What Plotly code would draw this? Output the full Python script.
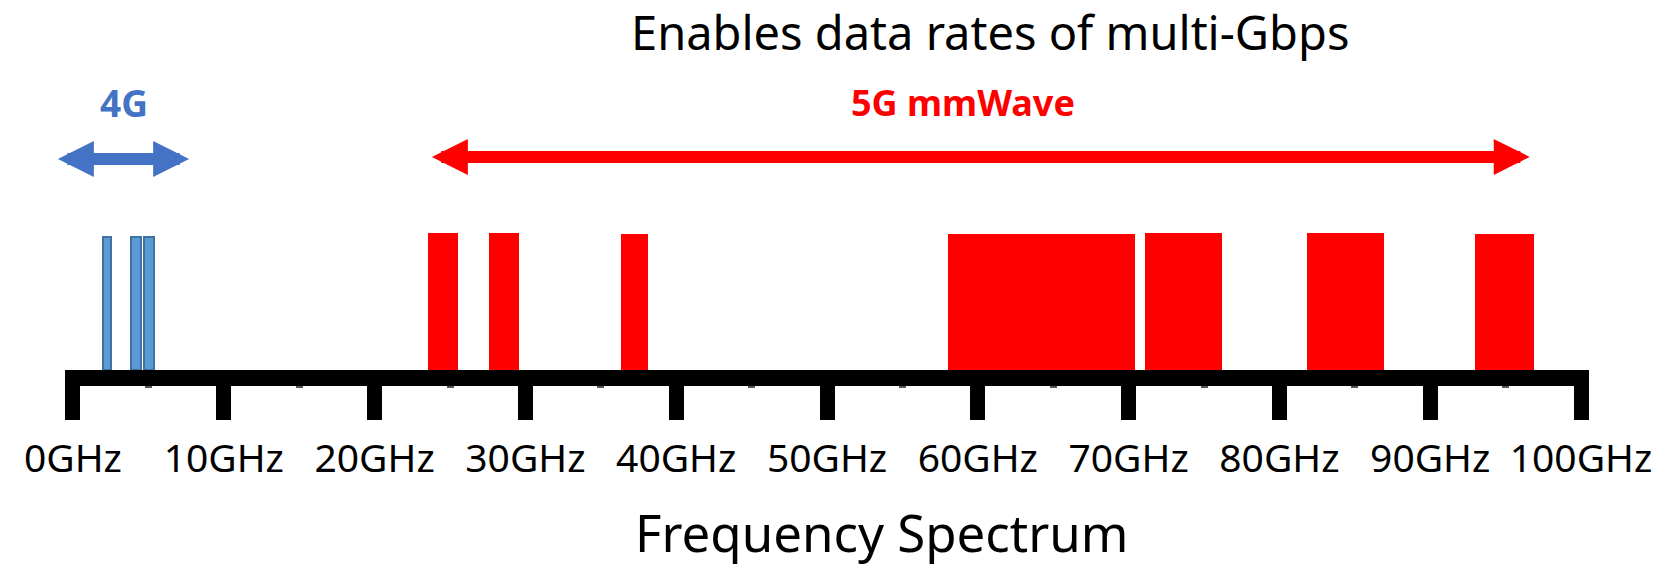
import plotly.graph_objects as go

# ---------------- data (GHz) ----------------
band4g_start = [2.01, 3.87, 4.70]
band4g_end = [2.52, 4.50, 5.34]
band4g_height = [0.97, 0.97, 0.97]
band5g_start = [23.55, 27.59, 36.33, 58.05, 71.09, 81.82, 92.96]
band5g_end = [25.51, 29.55, 38.16, 70.41, 76.22, 86.92, 96.87]
band5g_height = [1.0, 1.0, 0.99, 0.99, 1.0, 1.0, 0.99]
tick_vals = [0, 10, 20, 30, 40, 50, 60, 70, 80, 90, 100]
tick_text = ["0GHz", "10GHz", "20GHz", "30GHz", "40GHz", "50GHz",
             "60GHz", "70GHz", "80GHz", "90GHz", "100GHz"]
minor_vals = [5, 15, 25, 35, 45, 55, 65, 75, 85, 95]
arrow_4g = [-1.1, 7.7]
arrow_5g = [23.7, 96.6]

FONT = "Noto Sans"
BLUE_TXT = "#4472C4"
RED = "#FF0000"

W, H = 1678, 569
L, R, T, B = 65, 89, 0, 199
px_per_unit = 137.0
ymax = (H - T - B) / px_per_unit

fig = go.Figure()

fig.add_trace(go.Bar(
    x=[(s + e) / 2 for s, e in zip(band4g_start, band4g_end)],
    y=band4g_height,
    width=[e - s for s, e in zip(band4g_start, band4g_end)],
    marker=dict(color="#5B9BD5", line=dict(color="#41719C", width=2)),
    hoverinfo="skip",
))
fig.add_trace(go.Bar(
    x=[(s + e) / 2 for s, e in zip(band5g_start, band5g_end)],
    y=band5g_height,
    width=[e - s for s, e in zip(band5g_start, band5g_end)],
    marker=dict(color=RED, line=dict(width=0)),
    hoverinfo="skip",
))

annotations = [
    dict(text="Enables data rates of multi-Gbps", x=60.8, y=1.0, xref="x", yref="paper",
         showarrow=False, font=dict(family=FONT, size=47, color="black"),
         xanchor="center", yanchor="top", yshift=2),
    dict(text="<b>4G</b>", x=3.4, y=1.95, xref="x", yref="y", showarrow=False,
         font=dict(family=FONT, size=37, color=BLUE_TXT), xanchor="center", yanchor="middle"),
    dict(text="<b>5G mmWave</b>", x=59.0, y=1.95, xref="x", yref="y", showarrow=False,
         font=dict(family=FONT, size=36, color=RED), xanchor="center", yanchor="middle"),
    dict(text="Frequency Spectrum", x=53.6, y=-(B / (H - T - B)), xref="x", yref="paper",
         showarrow=False, font=dict(family=FONT, size=51, color="black"),
         xanchor="center", yanchor="bottom"),
]
for (a0, a1), col, yv, w in [(arrow_4g, "#4472C4", 1.54, 12), (arrow_5g, RED, 1.555, 12)]:
    annotations.append(dict(
        x=a1, y=yv, ax=a0, ay=yv, xref="x", yref="y", axref="x", ayref="y",
        text="", showarrow=True, arrowside="end+start", arrowhead=2, startarrowhead=2,
        arrowsize=0.6, startarrowsize=0.6, arrowwidth=w, arrowcolor=col,
        standoff=0, startstandoff=0,
    ))

fig.update_layout(
    width=W, height=H,
    margin=dict(l=L, r=R, t=T, b=B, pad=0),
    paper_bgcolor="white", plot_bgcolor="white",
    showlegend=False, barmode="overlay", bargap=0,
    annotations=annotations,
    xaxis=dict(
        range=[-0.53, 100.53], showgrid=False, zeroline=False,
        showline=True, linewidth=16, linecolor="black",
        ticks="outside", tickvals=tick_vals, ticktext=tick_text,
        ticklen=34, tickwidth=15, tickcolor="black",
        tickfont=dict(family=FONT, size=39, color="black"),
        ticklabelstandoff=5,
        minor=dict(tickvals=minor_vals, ticks="outside", ticklen=2, tickwidth=7,
                   tickcolor="#555555"),
        fixedrange=True,
    ),
    yaxis=dict(range=[0, ymax], visible=False, fixedrange=True),
)

fig.write_html("out.html")
